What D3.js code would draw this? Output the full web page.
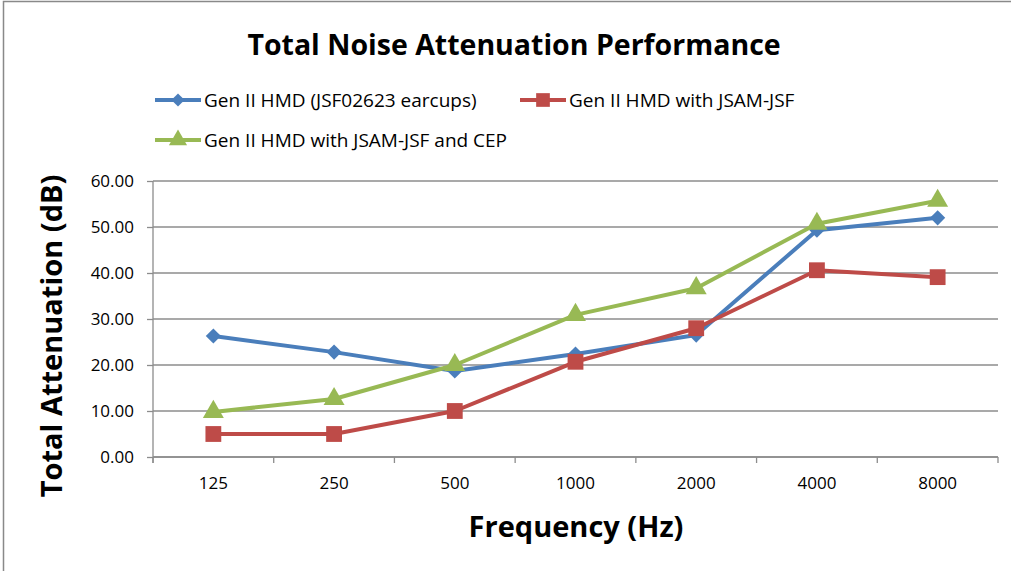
<!DOCTYPE html>
<html>
<head>
<meta charset="utf-8">
<script src="https://cdn.jsdelivr.net/npm/d3@7"></script>
<style>
  body { margin: 0; background: #fff; }
  svg text { font-family: "Open Sans", "Liberation Sans", sans-serif; fill: #000; }
</style>
</head>
<body>
<svg id="chart" width="1011" height="571"></svg>
<script>
// data
var frequencies = ["125", "250", "500", "1000", "2000", "4000", "8000"];
var seriesNames = ["Gen II HMD (JSF02623 earcups)", "Gen II HMD with JSAM-JSF", "Gen II HMD with JSAM-JSF and CEP"];
var hmdValues = [26.3, 22.8, 18.7, 22.4, 26.5, 49.3, 52.0];
var jsamValues = [5.0, 5.0, 10.0, 20.7, 28.0, 40.6, 39.1];
var cepValues = [9.8, 12.6, 20.0, 30.9, 36.7, 50.7, 55.7];
var yTicks = [0, 10, 20, 30, 40, 50, 60];

var seriesColors = ["#4a7ebb", "#be4b48", "#98b954"];
var seriesShapes = ["diamond", "square", "triangle"];
var series = [hmdValues, jsamValues, cepValues].map(function(v, i) {
  return { name: seriesNames[i], values: v, color: seriesColors[i], shape: seriesShapes[i] };
});

// marker path + extra rotation per shape
function marker(shape, scale) {
  if (shape === "diamond") return { d: d3.symbol().type(d3.symbolSquare).size(115 * scale)(), rot: 45 };
  if (shape === "square") return { d: d3.symbol().type(d3.symbolSquare).size(250 * scale)(), rot: 0 };
  return { d: d3.symbol().type(d3.symbolTriangle).size(190 * scale)(), rot: 0 };
}

var svg = d3.select("svg#chart");

// outer frame
svg.append("rect")
  .attr("x", 3.5).attr("y", 1.5)
  .attr("width", 1011).attr("height", 600)
  .attr("fill", "none").attr("stroke", "#898989").attr("stroke-width", 1.5);

var plotLeft = 153, plotRight = 998, plotTop = 181, plotBottom = 457;

var x = d3.scaleBand().domain(frequencies).range([plotLeft, plotRight]);
var y = d3.scaleLinear().domain([0, 60]).range([plotBottom, plotTop]);

// gridlines
svg.append("g")
  .selectAll("line")
  .data(yTicks)
  .enter().append("line")
  .attr("x1", plotLeft).attr("x2", plotRight)
  .attr("y1", function(d) { return y(d); })
  .attr("y2", function(d) { return y(d); })
  .attr("stroke", "#8c8c8c").attr("stroke-width", 1.3);

// y axis
var yAxis = svg.append("g")
  .attr("transform", "translate(" + plotLeft + ",0)")
  .call(d3.axisLeft(y).tickValues(yTicks).tickSize(6).tickPadding(13).tickFormat(d3.format(".2f")));
yAxis.select(".domain").attr("stroke", "#8c8c8c").attr("stroke-width", 1.3).attr("d", "M0," + plotTop + "V" + (plotBottom + 6));
yAxis.selectAll(".tick line").attr("stroke", "#8c8c8c").attr("stroke-width", 1.3);
yAxis.selectAll(".tick text").style("font-size", "17px");

// x axis: ticks at category boundaries
var xAxis = svg.append("g")
  .attr("transform", "translate(0," + plotBottom + ")")
  .call(d3.axisBottom(x).tickSize(0).tickPadding(20));
xAxis.select(".domain").attr("stroke", "#8c8c8c").attr("stroke-width", 1.3).attr("d", "M" + plotLeft + ",0H" + plotRight);
xAxis.selectAll(".tick text").style("font-size", "17px");
xAxis.selectAll(".bound")
  .data(frequencies.concat(["end"]))
  .enter().append("line")
  .attr("class", "bound")
  .attr("x1", function(d, i) { return plotLeft + i * x.step(); })
  .attr("x2", function(d, i) { return plotLeft + i * x.step(); })
  .attr("y1", 0).attr("y2", 6)
  .attr("stroke", "#8c8c8c").attr("stroke-width", 1.3);

// lines
var line = d3.line()
  .x(function(d, i) { return x(frequencies[i]) + x.bandwidth() / 2; })
  .y(function(d) { return y(d); });

series.forEach(function(s) {
  svg.append("path")
    .datum(s.values)
    .attr("d", line)
    .attr("fill", "none")
    .attr("stroke", s.color)
    .attr("stroke-width", 4)
    .attr("stroke-linejoin", "round");
});

series.forEach(function(s) {
  var m = marker(s.shape, 1);
  svg.append("g").selectAll("path")
    .data(s.values)
    .enter().append("path")
    .attr("d", m.d)
    .attr("transform", function(d, i) {
      return "translate(" + (x(frequencies[i]) + x.bandwidth() / 2) + "," + y(d) + ") rotate(" + m.rot + ")";
    })
    .attr("fill", s.color);
});

// title
svg.append("text")
  .attr("x", 514).attr("y", 55)
  .attr("text-anchor", "middle")
  .style("font-size", "28.5px").style("font-weight", "bold")
  .text("Total Noise Attenuation Performance");

// axis titles
svg.append("text")
  .attr("x", 576).attr("y", 537)
  .attr("text-anchor", "middle")
  .style("font-size", "29px").style("font-weight", "bold")
  .text("Frequency (Hz)");

svg.append("text")
  .attr("transform", "translate(62,336) rotate(-90)")
  .attr("text-anchor", "middle")
  .style("font-size", "29px").style("font-weight", "bold")
  .text("Total Attenuation (dB)");

// legend
var legendPos = [[155, 100], [520, 100], [155, 140]];
series.forEach(function(s, i) {
  var g = svg.append("g").attr("transform", "translate(" + legendPos[i][0] + "," + legendPos[i][1] + ")");
  g.append("line").attr("x1", 0).attr("x2", 46).attr("y1", 0).attr("y2", 0)
    .attr("stroke", s.color).attr("stroke-width", 4);
  var m = marker(s.shape, 0.75);
  g.append("path")
    .attr("d", m.d)
    .attr("transform", "translate(23,0) rotate(" + m.rot + ")")
    .attr("fill", s.color);
  g.append("text").attr("x", 49).attr("y", 7)
    .style("font-size", "19px")
    .text(s.name);
});
</script>
</body>
</html>
